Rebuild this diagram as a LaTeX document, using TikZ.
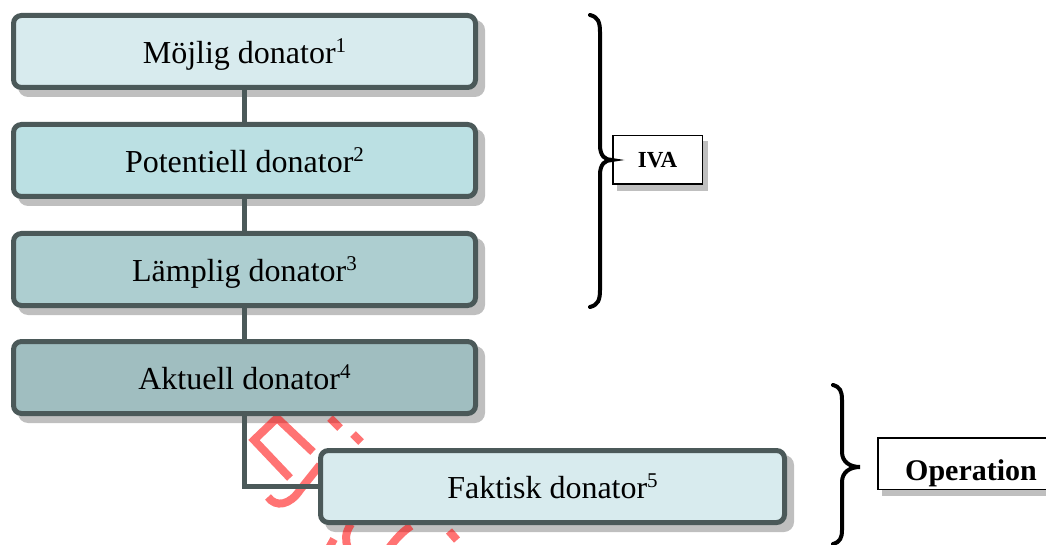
\documentclass[tikz,border=0pt]{standalone}
\usepackage{fontspec}
\setmainfont{Liberation Serif}
\pgfdeclarelayer{bg}
\pgfdeclarelayer{wm}
\pgfsetlayers{bg,wm,main}
\definecolor{bord}{HTML}{4B5959}
\definecolor{cA}{HTML}{D8EBEE}
\definecolor{cB}{HTML}{BBE0E3}
\definecolor{cC}{HTML}{ADCED0}
\definecolor{cD}{HTML}{A0BEC0}
\definecolor{shad}{HTML}{BFBFBF}
\newcommand{\sups}[1]{\raisebox{11pt}{\fontsize{21}{21}\selectfont #1}}
\begin{document}
\begin{tikzpicture}[x=1pt,y=-1pt,
  box/.style={draw=bord, line width=5pt, rounded corners=8pt, minimum width=462pt,
    minimum height=72pt, inner sep=0pt, text height=24pt, text depth=0pt,
    font=\fontsize{32}{38}\selectfont},
  lab/.style={draw=black, line width=1.5pt, fill=white, inner sep=0pt, text depth=0pt},
  conn/.style={draw=bord, line width=5pt},
  wmark/.style={draw=red, line width=8pt, opacity=0.55},
  brace/.style={draw=black, line width=4pt, line cap=round}]
\useasboundingbox (0,0) rectangle (1046,545);
\clip (0,0) rectangle (1046,545);

\node[box, fill=cA] (b1) at (244.5,51.5) {Möjlig donator\sups{1}};
\node[box, fill=cB] (b2) at (244.5,160.5) {Potentiell donator\sups{2}};
\node[box, fill=cC] (b3) at (244.5,269.5) {Lämplig donator\sups{3}};
\node[box, fill=cD] (b4) at (244.5,377.5) {Aktuell donator\sups{4}};
\node[box, fill=cA, minimum width=464pt] (b5) at (552.5,486.5) {Faktisk donator\sups{5}};
\node[lab, minimum width=89.5pt, minimum height=48.5pt, text height=16pt,
  font=\bfseries\fontsize{23}{28}\selectfont] (iva) at (657.5,160) {IVA};
\node[lab, minimum width=186pt, minimum height=51.5pt, text height=34pt,
  font=\bfseries\fontsize{30}{36}\selectfont] (op) at (971,463.5) {Operation};

\begin{pgfonlayer}{bg}
  \foreach \n in {b1,b2,b3,b4,b5}
    \fill[shad, rounded corners=10pt] ([shift={(7,7)}]\n.south west) rectangle ([shift={(7,7)}]\n.north east);
  \fill[shad] ([shift={(5,6)}]iva.south west) rectangle ([shift={(5,6)}]iva.north east);
  \fill[shad] ([shift={(5,6)}]op.south west) rectangle ([shift={(5,6)}]op.north east);
\end{pgfonlayer}

\begin{pgfonlayer}{wm}
  \draw[wmark] (290,478) -- (254,440) -- (277,418) -- (313,452);
  \draw[wmark] (330,418) -- (340,428);
  \draw[wmark] (353,434) -- (361,442);
  \draw[wmark] (268,497) .. controls (276,508) and (290,505) .. (300,490) -- (320,465);
  \draw[wmark] (351,524) .. controls (345,533) and (345,540) .. (348,548);
  \draw[wmark] (389,548) .. controls (395,540) and (402,532) .. (411,526);
  \draw[wmark] (449,531) -- (457,540);
  \draw[wmark] (329,548) -- (334,539);
\end{pgfonlayer}

\draw[conn] (b1.south) -- (b2.north);
\draw[conn] (b2.south) -- (b3.north);
\draw[conn] (b3.south) -- (b4.north);
\draw[conn] (b4.south) |- (b5.west);

\draw[brace] (590,15) .. controls (598,17) and (600,22) .. (600,32) -- (600,145)
  .. controls (600,156) and (605,160) .. (612,160)
  .. controls (605,160) and (600,164) .. (600,175) -- (600,290)
  .. controls (600,300) and (598,305) .. (590,307);
\draw[brace] (833,385) .. controls (840,387) and (842,391) .. (842,400) -- (842,452)
  .. controls (842,462) and (850,467) .. (860,467)
  .. controls (850,467) and (842,472) .. (842,482) -- (842,530)
  .. controls (842,538) and (840,542) .. (833,544);
\end{tikzpicture}
\end{document}
